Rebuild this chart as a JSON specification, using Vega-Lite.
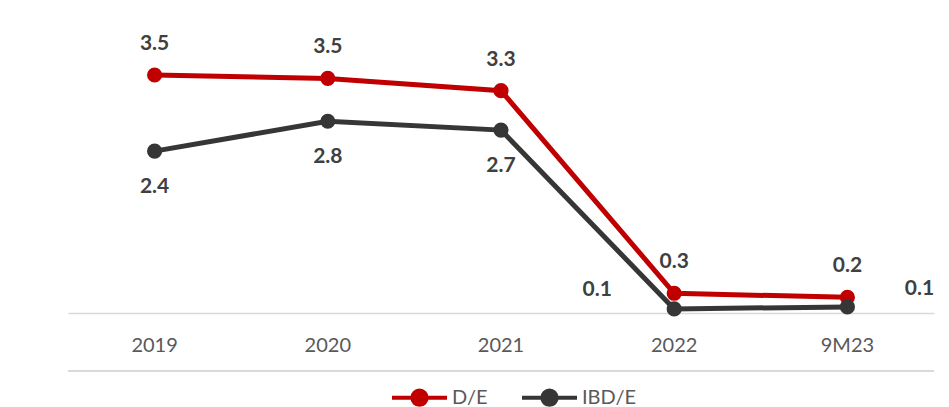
{
  "$schema": "https://vega.github.io/schema/vega-lite/v6.json",
  "width": 866,
  "height": 272,
  "autosize": {"type": "none"},
  "padding": {"left": 68, "top": 41, "right": 15, "bottom": 94},
  "background": "white",
  "config": {
    "view": {"stroke": null},
    "font": "Lato",
    "text": {"font": "Lato"}
  },
  "data": {
    "values": [
      {"series": "D/E", "period": "2019", "value": 3.50},
      {"series": "D/E", "period": "2020", "value": 3.45},
      {"series": "D/E", "period": "2021", "value": 3.27},
      {"series": "D/E", "period": "2022", "value": 0.29},
      {"series": "D/E", "period": "9M23", "value": 0.23},
      {"series": "IBD/E", "period": "2019", "value": 2.38},
      {"series": "IBD/E", "period": "2020", "value": 2.82},
      {"series": "IBD/E", "period": "2021", "value": 2.69},
      {"series": "IBD/E", "period": "2022", "value": 0.06},
      {"series": "IBD/E", "period": "9M23", "value": 0.09}
    ]
  },
  "encoding": {
    "x": {
      "field": "period", "type": "ordinal", "sort": null,
      "scale": {"type": "band", "paddingInner": 0, "paddingOuter": 0},
      "axis": {
        "title": null, "labelAngle": 0, "ticks": false,
        "domainColor": "#d9d9d9", "domainWidth": 1.5,
        "labelColor": "#595959", "labelFontSize": 20, "labelFont": "Lato",
        "labelPadding": 22
      }
    },
    "y": {
      "field": "value", "type": "quantitative",
      "scale": {"domain": [0, 4]},
      "axis": null
    }
  },
  "layer": [
    {
      "mark": {"type": "rule", "color": "#d9d9d9", "strokeWidth": 1.5},
      "encoding": {"x": null, "y": {"datum": -0.85}}
    },
    {
      "mark": {"type": "line", "strokeWidth": 5, "point": {"filled": true, "size": 230, "opacity": 1}},
      "encoding": {
        "color": {
          "field": "series", "type": "nominal",
          "scale": {"domain": ["D/E", "IBD/E"], "range": ["#c00000", "#363636"]},
          "legend": {
            "title": null, "orient": "none", "direction": "horizontal",
            "legendX": 322, "legendY": 327,
            "symbolType": "M-1,0H1M-0.26,0A0.26,0.26 0 1 1 0.26,0A0.26,0.26 0 1 1 -0.26,0",
            "symbolSize": 3025, "symbolStrokeWidth": 4,
            "labelFontSize": 20, "labelColor": "#595959", "labelFont": "Lato",
            "labelOffset": 3, "columnPadding": 26,
            "encode": {"symbols": {"update": {"fill": {"scale": "color", "field": "value"}, "opacity": {"value": 1}}}}
          }
        }
      }
    },
    {
      "transform": [{"filter": "datum.series == 'D/E'"}],
      "mark": {"type": "text", "dy": -31, "fontSize": 21, "fontWeight": "bold", "color": "#404040"},
      "encoding": {"text": {"field": "value", "type": "quantitative", "format": ".1f"}}
    },
    {
      "transform": [{"filter": "datum.series == 'IBD/E' && (datum.period == '2019' || datum.period == '2020' || datum.period == '2021')"}],
      "mark": {"type": "text", "dy": 36, "fontSize": 21, "fontWeight": "bold", "color": "#404040"},
      "encoding": {"text": {"field": "value", "type": "quantitative", "format": ".1f"}}
    },
    {
      "transform": [{"filter": "datum.series == 'IBD/E' && datum.period == '2022'"}],
      "mark": {"type": "text", "dx": -77, "dy": -19, "fontSize": 21, "fontWeight": "bold", "color": "#404040"},
      "encoding": {"text": {"field": "value", "type": "quantitative", "format": ".1f"}}
    },
    {
      "transform": [{"filter": "datum.series == 'IBD/E' && datum.period == '9M23'"}],
      "mark": {"type": "text", "dx": 72, "dy": -18, "fontSize": 21, "fontWeight": "bold", "color": "#404040"},
      "encoding": {"text": {"field": "value", "type": "quantitative", "format": ".1f"}}
    }
  ]
}
